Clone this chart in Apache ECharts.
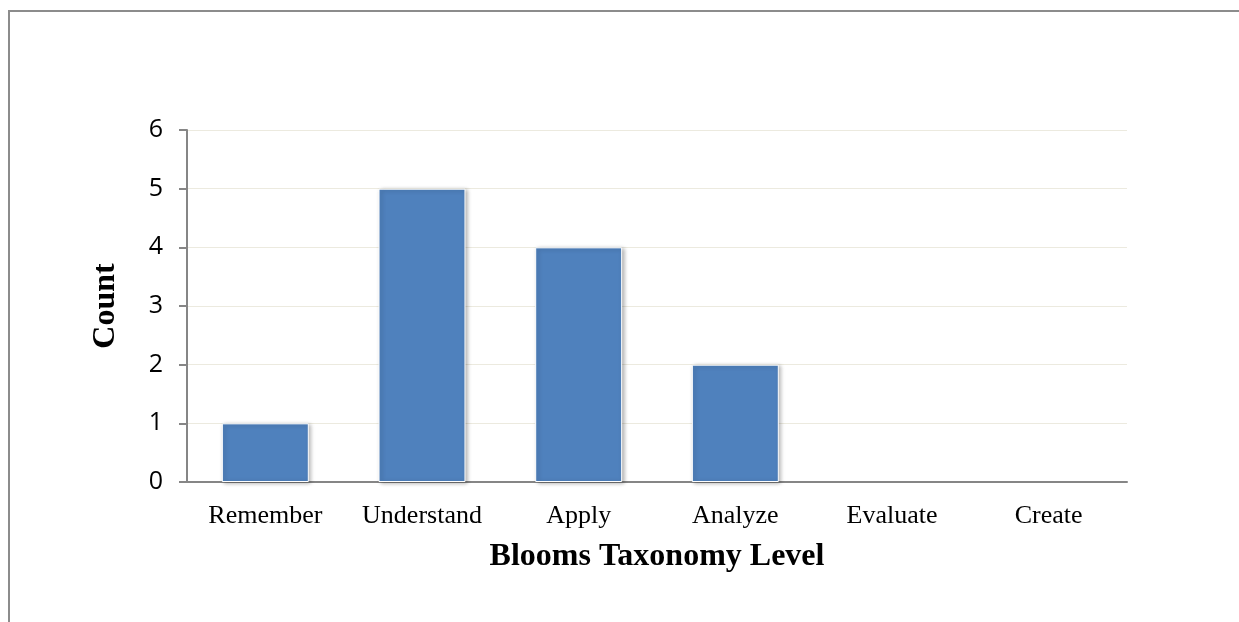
<!DOCTYPE html>
<html>
<head>
<meta charset="utf-8">
<script src="https://cdn.jsdelivr.net/npm/echarts@6/dist/echarts.min.js"></script>
<style>
  html, body { margin: 0; padding: 0; background: #fff; }
  #frame {
    position: absolute; left: 8px; top: 10px; width: 1300px; height: 700px;
    border-left: 2px solid #8c8c8c; border-top: 2px solid #8c8c8c;
  }
  #chart { position: absolute; left: 0; top: 0; width: 1239px; height: 622px; }
</style>
</head>
<body>
<div id="frame"></div>
<div id="chart"></div>
<script>
const categories = ["Remember", "Understand", "Apply", "Analyze", "Evaluate", "Create"];
const counts = [1, 5, 4, 2, 0, 0];

const chart = echarts.init(document.getElementById("chart"));

// zero bars get no outline/shadow so nothing shows on the axis
const barData = counts.map((v) =>
  v === 0 ? { value: v, itemStyle: { borderWidth: 0, shadowBlur: 0, shadowColor: "transparent" } } : v
);

const option = {
  animation: false,
  grid: { left: 187, right: 112, top: 130, bottom: 140 },
  xAxis: {
    type: "category",
    data: categories,
    name: "Blooms Taxonomy Level",
    nameLocation: "middle",
    nameGap: 59,
    nameTextStyle: { fontFamily: "Liberation Serif", fontWeight: "bold", fontSize: 32, color: "#000" },
    axisLine: { lineStyle: { color: "#868686", width: 2 } },
    axisTick: { show: false },
    axisLabel: { fontFamily: "Liberation Serif", fontSize: 26, color: "#000", margin: 21 },
  },
  yAxis: {
    type: "value",
    min: 0,
    max: 6,
    interval: 1,
    name: "Count",
    nameLocation: "middle",
    nameRotate: 90,
    nameGap: 65,
    nameTextStyle: { fontFamily: "Liberation Serif", fontWeight: "bold", fontSize: 32, color: "#000" },
    axisLine: { show: true, lineStyle: { color: "#868686", width: 2 } },
    axisTick: { show: true, length: 8, lineStyle: { color: "#868686", width: 2 } },
    axisLabel: { fontFamily: "Open Sans", fontSize: 25, color: "#000", margin: 24 },
    splitLine: { lineStyle: { color: "#ECEADF", width: 1 } },
  },
  series: [
    {
      name: "Count",
      type: "bar",
      data: barData,
      barWidth: "55.5%",
      itemStyle: {
        color: "#4F81BD",
        borderColor: "#ffffff",
        borderWidth: 1,
        shadowBlur: 4,
        shadowColor: "rgba(0,0,0,0.3)",
        shadowOffsetX: 2,
        shadowOffsetY: 1,
      },
    },
  ],
};

option && chart.setOption(option);
</script>
</body>
</html>
